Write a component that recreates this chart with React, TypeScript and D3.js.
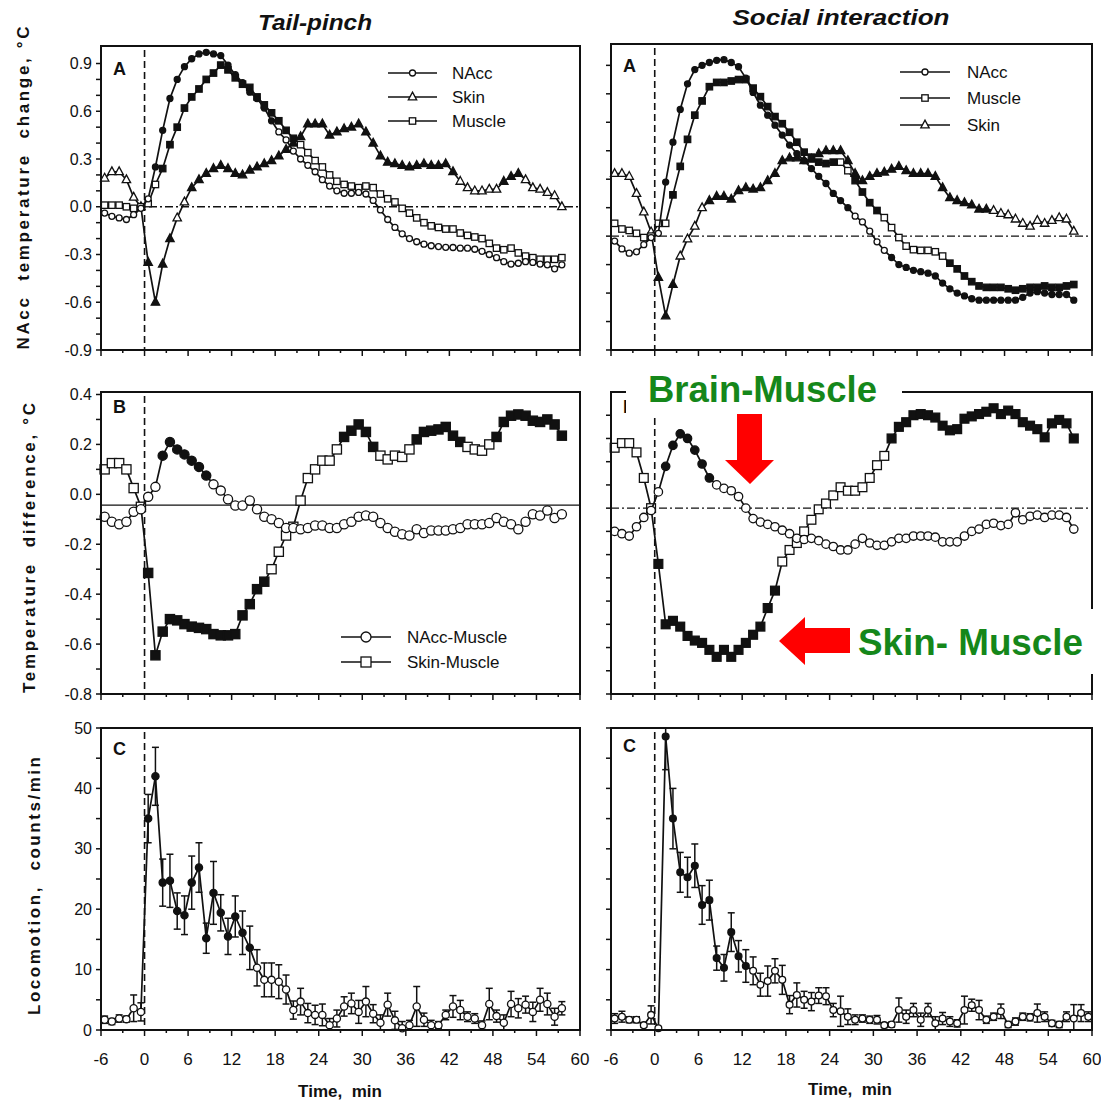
import React from "react";
import * as d3 from "d3";

const INK = "#111";
const GREEN = "#15871a";
const RED = "#ff0000";
const FONT = "'Liberation Sans', Arial, Helvetica, sans-serif";

// 1-min bins, min after stimulus
const time = [
  -5.5, -4.5, -3.5, -2.5, -1.5, -0.5, 0.5, 1.5, 2.5, 3.5, 4.5, 5.5, 6.5, 7.5, 8.5, 9.5,
  10.5, 11.5, 12.5, 13.5, 14.5, 15.5, 16.5, 17.5, 18.5, 19.5, 20.5, 21.5, 22.5, 23.5,
  24.5, 25.5, 26.5, 27.5, 28.5, 29.5, 30.5, 31.5, 32.5, 33.5, 34.5, 35.5, 36.5, 37.5,
  38.5, 39.5, 40.5, 41.5, 42.5, 43.5, 44.5, 45.5, 46.5, 47.5, 48.5, 49.5, 50.5, 51.5,
  52.5, 53.5, 54.5, 55.5, 56.5, 57.5,
];
const timeLong = [...time, 58.5, 59.5];

const timeTicks = [-6, 0, 6, 12, 18, 24, 30, 36, 42, 48, 54, 60];
const timeMinor = [-6, -3, 0, 3, 6, 9, 12, 15, 18, 21, 24, 27, 30, 33, 36, 39, 42, 45, 48, 51, 54, 57, 60];

// ---- A: temperature change, tail-pinch
const tpNAcc = [
  -0.04, -0.06, -0.07, -0.08, -0.05, -0.01,
  0.05, 0.25, 0.48, 0.68, 0.8, 0.88, 0.93, 0.96, 0.97, 0.96,
  0.95, 0.89, 0.83, 0.78, 0.72, 0.68, 0.62, 0.54, 0.47, 0.42,
  0.35, 0.3, 0.26, 0.22, 0.17, 0.13, 0.1, 0.085, 0.085, 0.09,
  0.08, 0.04, -0.02, -0.08, -0.13, -0.17, -0.2, -0.22, -0.235, -0.245,
  -0.25, -0.255, -0.256, -0.26, -0.26, -0.267, -0.28, -0.3, -0.32, -0.345,
  -0.36, -0.355, -0.345, -0.35, -0.36, -0.365, -0.39, -0.365,
];
const tpSkin = [
  0.18, 0.22, 0.22, 0.17, 0.06, 0.0,
  -0.35, -0.6, -0.36, -0.2, -0.07, 0.03, 0.12, 0.17, 0.21, 0.24,
  0.26, 0.24, 0.21, 0.2, 0.23, 0.25, 0.27, 0.29, 0.32, 0.36,
  0.4, 0.44, 0.52, 0.52, 0.52, 0.45, 0.47, 0.49, 0.5, 0.52,
  0.47, 0.4, 0.32, 0.28, 0.27, 0.26, 0.25, 0.26, 0.27, 0.26,
  0.26, 0.27, 0.22, 0.16, 0.12, 0.1, 0.1, 0.11, 0.11, 0.16,
  0.19, 0.21, 0.17, 0.12, 0.11, 0.09, 0.07, 0.0,
];
const tpMuscle = [
  0.01, 0.01, 0.01, 0.0, -0.01, 0.0,
  0.02, 0.14, 0.24, 0.39, 0.5, 0.62, 0.69, 0.74, 0.8, 0.84,
  0.89, 0.86, 0.81, 0.77, 0.75, 0.69, 0.64, 0.59, 0.54, 0.48,
  0.43, 0.39, 0.34, 0.29, 0.25, 0.2, 0.16, 0.14, 0.13, 0.12,
  0.13, 0.12, 0.08, 0.05, 0.03, -0.01, -0.04, -0.07, -0.1, -0.12,
  -0.13, -0.14, -0.14, -0.165, -0.18, -0.19, -0.2, -0.23, -0.26, -0.27,
  -0.26, -0.29, -0.31, -0.32, -0.33, -0.33, -0.33, -0.32,
];

// ---- A: temperature change, social interaction
const siNAcc = [
  -0.035, -0.09, -0.12, -0.11, -0.06, -0.01,
  0.02, 0.38, 0.66, 0.89, 1.07, 1.17, 1.2, 1.22, 1.235, 1.24,
  1.22, 1.19, 1.11, 1.01, 0.92, 0.85, 0.78, 0.71, 0.64, 0.58,
  0.53, 0.475, 0.42, 0.37, 0.3, 0.25, 0.2, 0.14, 0.1, 0.035,
  -0.04, -0.1, -0.15, -0.2, -0.22, -0.24, -0.25, -0.26, -0.28, -0.33,
  -0.37, -0.4, -0.42, -0.44, -0.45, -0.45, -0.45, -0.45, -0.45, -0.45,
  -0.43, -0.4, -0.39, -0.4, -0.41, -0.41, -0.41, -0.45,
];
const siMuscle = [
  0.09, 0.05, 0.04, 0.02, -0.01, 0.0,
  0.09, 0.09, 0.29, 0.49, 0.68, 0.85, 0.95, 1.05, 1.08, 1.08,
  1.09, 1.1, 1.1, 1.04, 0.98, 0.91, 0.84, 0.79, 0.73, 0.66,
  0.59, 0.555, 0.52, 0.51, 0.52, 0.52, 0.46, 0.39, 0.31, 0.235,
  0.18, 0.13, 0.06, -0.01, -0.07, -0.095, -0.1, -0.1, -0.11, -0.14,
  -0.19, -0.23, -0.28, -0.32, -0.35, -0.36, -0.36, -0.36, -0.37, -0.38,
  -0.37, -0.36, -0.36, -0.35, -0.36, -0.36, -0.35, -0.34,
];
const siSkin = [
  0.44, 0.44, 0.42, 0.3, 0.17, 0.03,
  -0.29, -0.56, -0.34, -0.14, -0.02, 0.07, 0.2, 0.25, 0.28, 0.28,
  0.26, 0.32, 0.34, 0.33, 0.34, 0.39, 0.44, 0.53, 0.55, 0.55,
  0.53, 0.54, 0.58, 0.6, 0.6, 0.6, 0.53, 0.44, 0.39, 0.42,
  0.44, 0.45, 0.47, 0.49, 0.46, 0.44, 0.44, 0.44, 0.42, 0.34,
  0.27, 0.25, 0.235, 0.22, 0.19, 0.19, 0.18, 0.16, 0.15, 0.12,
  0.09, 0.07, 0.11, 0.09, 0.11, 0.13, 0.12, 0.035,
];

// ---- B: temperature differences
const tpNAccMuscle = [
  -0.09, -0.11, -0.12, -0.11, -0.07, -0.06,
  -0.01, 0.03, 0.155, 0.21, 0.18, 0.16, 0.135, 0.11, 0.075, 0.04,
  0.015, -0.02, -0.045, -0.045, -0.025, -0.06, -0.09, -0.1, -0.115, -0.135,
  -0.135, -0.14, -0.135, -0.125, -0.125, -0.135, -0.135, -0.12, -0.11, -0.09,
  -0.085, -0.09, -0.115, -0.135, -0.15, -0.16, -0.165, -0.14, -0.155, -0.145,
  -0.145, -0.145, -0.14, -0.135, -0.12, -0.12, -0.12, -0.115, -0.095, -0.11,
  -0.12, -0.14, -0.11, -0.08, -0.085, -0.065, -0.095, -0.08,
];
const tpSkinMuscle = [
  0.1, 0.125, 0.125, 0.1, 0.025, -0.05,
  -0.315, -0.645, -0.55, -0.5, -0.505, -0.52, -0.53, -0.535, -0.54, -0.56,
  -0.565, -0.565, -0.56, -0.485, -0.44, -0.38, -0.35, -0.3, -0.23, -0.165,
  -0.13, -0.025, 0.065, 0.1, 0.135, 0.135, 0.18, 0.23, 0.255, 0.28,
  0.25, 0.19, 0.155, 0.14, 0.155, 0.15, 0.18, 0.22, 0.25, 0.255,
  0.26, 0.27, 0.235, 0.21, 0.19, 0.18, 0.175, 0.2, 0.23, 0.29,
  0.315, 0.32, 0.315, 0.295, 0.29, 0.3, 0.28, 0.235,
];
const siNAccMuscle = [
  -0.1, -0.11, -0.12, -0.08, -0.04, -0.01,
  0.07, 0.18, 0.27, 0.32, 0.3, 0.25, 0.19, 0.13, 0.1, 0.085,
  0.075, 0.05, 0.0, -0.045, -0.06, -0.07, -0.08, -0.095, -0.11, -0.13,
  -0.135, -0.13, -0.14, -0.155, -0.165, -0.18, -0.18, -0.155, -0.13, -0.15,
  -0.16, -0.16, -0.145, -0.13, -0.13, -0.12, -0.12, -0.12, -0.125, -0.145,
  -0.145, -0.145, -0.12, -0.1, -0.09, -0.07, -0.065, -0.075, -0.07, -0.02,
  -0.05, -0.035, -0.03, -0.04, -0.03, -0.03, -0.04, -0.09,
];
const siSkinMuscle = [
  0.26, 0.28, 0.28, 0.24, 0.13, 0.0,
  -0.24, -0.5, -0.485, -0.51, -0.55, -0.57, -0.58, -0.61, -0.64, -0.61,
  -0.64, -0.61, -0.58, -0.545, -0.51, -0.43, -0.355, -0.23, -0.18, -0.15,
  -0.1, -0.05, -0.005, 0.02, 0.055, 0.09, 0.075, 0.075, 0.09, 0.13,
  0.185, 0.225, 0.3, 0.35, 0.37, 0.4, 0.405, 0.4, 0.39, 0.355,
  0.335, 0.34, 0.385, 0.395, 0.405, 0.415, 0.43, 0.405, 0.42, 0.405,
  0.37, 0.355, 0.34, 0.305, 0.365, 0.38, 0.365, 0.3,
];

// ---- C: locomotion (mean, SEM)
const tpLoco = [
  1.7, 1.4, 1.9, 1.8, 3.6, 3.0,
  35.0, 42.0, 24.4, 24.7, 19.7, 19.0, 24.4, 26.9, 15.2, 22.7,
  19.4, 15.5, 18.8, 16.1, 13.6, 10.3, 8.3, 8.3, 8.0, 6.7,
  3.3, 4.7, 2.8, 2.5, 2.5, 0.8, 1.9, 3.9, 4.4, 3.0,
  4.7, 2.7, 1.2, 4.2, 1.6, 0.3, 0.8, 3.9, 1.7, 0.8,
  0.8, 2.5, 3.9, 3.3, 2.2, 1.9, 0.8, 4.3, 2.3, 1.2,
  4.3, 3.6, 4.2, 3.0, 5.0, 4.3, 2.2, 3.6,
];
const tpLocoSem = [
  0.6, 0.5, 0.6, 0.5, 2.2, 1.5,
  4.0, 4.8, 3.9, 4.4, 3.0, 3.2, 4.4, 4.1, 2.5, 5.2,
  3.0, 3.0, 3.4, 3.6, 3.6, 3.0, 2.8, 2.8, 2.8, 2.4,
  1.5, 2.2, 1.6, 1.6, 1.8, 1.1, 1.4, 1.6, 1.7, 1.9,
  2.5, 1.5, 1.3, 1.9, 1.5, 1.1, 0.8, 3.3, 1.1, 0.8,
  0.6, 0.8, 1.8, 1.6, 0.8, 0.8, 0.7, 2.6, 1.0, 1.3,
  2.1, 1.6, 1.4, 1.6, 1.9, 1.8, 1.4, 1.1,
];
const siLoco = [
  1.9, 2.2, 1.7, 1.7, 0.8, 2.5,
  0.3, 48.6, 35.0, 26.1, 25.3, 27.2, 20.7, 21.5, 11.9, 10.3,
  16.2, 12.2, 10.6, 9.8, 7.5, 8.1, 9.8, 8.3, 4.2, 5.8,
  5.0, 4.7, 5.7, 5.6, 3.3, 3.1, 2.2, 1.7, 1.9, 1.7,
  1.7, 0.8, 0.9, 3.3, 2.2, 3.3, 1.7, 3.3, 1.1, 1.9,
  1.4, 1.1, 3.3, 4.1, 3.3, 1.7, 2.2, 3.1, 0.9, 1.4,
  2.2, 2.1, 2.8, 2.2, 1.1, 0.9, 2.2, 1.9, 2.8, 2.2,
];
const siLocoSem = [
  0.8, 0.9, 0.5, 0.5, 0.3, 1.5,
  0.0, 5.5, 5.0, 3.3, 3.3, 3.6, 3.2, 3.3, 2.0, 2.2,
  3.2, 2.6, 2.7, 2.3, 1.9, 2.5, 2.0, 2.4, 1.5, 2.0,
  1.4, 1.5, 1.3, 1.4, 1.1, 2.5, 1.3, 0.8, 0.6, 0.6,
  0.7, 0.4, 0.4, 2.0, 1.1, 1.1, 1.1, 1.1, 1.1, 1.0,
  0.8, 0.6, 2.3, 1.0, 1.6, 0.6, 0.6, 1.2, 0.5, 0.6,
  0.6, 0.6, 1.5, 0.8, 0.5, 0.5, 0.8, 2.3, 1.4, 0.8,
];

// periods with filled (significant) symbols, [from, to] in min
const tpNAccFilled = [[1.5, 17.5]];
const tpSkinFilled = [[0.5, 3.5], [6.5, 42.5], [49.5, 51.5]];
const tpMuscleFilled = [[2.5, 20.5]];
const siNAccFilled = [[1.5, 26.5], [32.5, 57.5]];
const siMuscleFilled = [[2.5, 24.5], [27.5, 30.5], [40.5, 57.5]];
const siSkinFilled = [[0.5, 2.5], [7.5, 45.5]];
const tpNAccMuscleFilled = [[2.5, 8.5]];
const tpSkinMuscleFilled = [[0.5, 16.5], [27.5, 31.5], [37.5, 43.5], [48.5, 57.5]];
const siNAccMuscleFilled = [[1.5, 7.5]];
const siSkinMuscleFilled = [[0.5, 16.5], [32.5, 57.5]];
const tpLocoFilled = [[0.5, 14.5]];
const siLocoFilled = [[1.5, 12.5]];

// axis ticks
const tempLabelsA = [-0.9, -0.6, -0.3, 0, 0.3, 0.6, 0.9];
const tempTicksA = [-0.9, -0.8, -0.7, -0.6, -0.5, -0.4, -0.3, -0.2, -0.1, 0, 0.1, 0.2, 0.3, 0.4, 0.5, 0.6, 0.7, 0.8, 0.9];
const tempTicksSiA = [-0.8, -0.6, -0.4, -0.2, 0, 0.2, 0.4, 0.6, 0.8, 1.0, 1.2];
const diffLabels = [-0.8, -0.6, -0.4, -0.2, 0, 0.2, 0.4];
const diffTicks = [-0.8, -0.7, -0.6, -0.5, -0.4, -0.3, -0.2, -0.1, 0, 0.1, 0.2, 0.3, 0.4];
const locoLabels = [0, 10, 20, 30, 40, 50];
const locoTicks = [0, 5, 10, 15, 20, 25, 30, 35, 40, 45, 50];

const tpBaselineB = -0.043;

const legendTPA = ["NAcc", "Skin", "Muscle"];
const legendSIA = ["NAcc", "Muscle", "Skin"];
const legendTPB = ["NAcc-Muscle", "Skin-Muscle"];

type Kind = "circle" | "square" | "triangle";
interface Series {
  t: number[];
  v: number[];
  kind: Kind;
  size: number;
  filled: number[][];
  sem?: number[];
}
interface PanelProps {
  x0: number;
  x1: number;
  y0: number;
  y1: number;
  yDomain: [number, number];
  yTicks: number[];
  yLabels?: number[];
  yFormat?: (v: number) => string;
  xLabels?: boolean;
  letter: string;
  letterDy: number;
  refLine?: { value: number; dash?: string };
  series: Series[];
}

const isFilled = (t: number, ranges: number[][]) =>
  ranges.some(([a, b]) => t >= a - 1e-6 && t <= b + 1e-6);

function Marker({ kind, x, y, size, filled }: { kind: Kind; x: number; y: number; size: number; filled: boolean }) {
  const fill = filled ? INK : "#fff";
  if (kind === "circle")
    return <circle cx={x} cy={y} r={size} fill={fill} stroke={INK} strokeWidth={1.3} />;
  if (kind === "square")
    return <rect x={x - size} y={y - size} width={size * 2} height={size * 2} fill={fill} stroke={INK} strokeWidth={1.3} />;
  return (
    <path
      d={`M${x},${y - size * 1.15}L${x + size},${y + size * 0.7}L${x - size},${y + size * 0.7}Z`}
      fill={fill}
      stroke={INK}
      strokeWidth={1.3}
    />
  );
}

function Panel(p: PanelProps) {
  const x = d3.scaleLinear().domain([-6, 60]).range([p.x0, p.x1]);
  const y = d3.scaleLinear().domain(p.yDomain).range([p.y1, p.y0]);
  const line = d3
    .line<[number, number]>()
    .x((d) => x(d[0]))
    .y((d) => y(d[1]));
  const fmt = p.yFormat ?? ((v: number) => String(v));

  return (
    <g>
      {p.refLine && (
        <line
          x1={p.x0}
          x2={p.x1}
          y1={y(p.refLine.value)}
          y2={y(p.refLine.value)}
          stroke={INK}
          strokeWidth={1.3}
          strokeDasharray={p.refLine.dash}
        />
      )}
      <line x1={x(0)} x2={x(0)} y1={p.y0 + 4} y2={p.y1} stroke={INK} strokeWidth={1.6} strokeDasharray="7 4" />

      {p.series.map((s, si) => (
        <g key={si}>
          {s.sem &&
            s.t.map((t, i) => {
              const e = s.sem![i];
              if (!e) return null;
              const lo = y(Math.max(p.yDomain[0], s.v[i] - e));
              const top = s.v[i] + e;
              const hi = y(Math.min(p.yDomain[1], top));
              const cx = x(t);
              return (
                <g key={i} stroke={INK} strokeWidth={1.5}>
                  <line x1={cx} x2={cx} y1={lo} y2={hi} />
                  {top <= p.yDomain[1] && <line x1={cx - 3.5} x2={cx + 3.5} y1={hi} y2={hi} />}
                  <line x1={cx - 3.5} x2={cx + 3.5} y1={lo} y2={lo} />
                </g>
              );
            })}
          <path d={line(s.t.map((t, i) => [t, s.v[i]] as [number, number])) ?? ""} fill="none" stroke={INK} strokeWidth={1.7} />
          {s.t.map((t, i) => (
            <Marker key={i} kind={s.kind} x={x(t)} y={y(s.v[i])} size={s.size} filled={isFilled(t, s.filled)} />
          ))}
        </g>
      ))}

      <rect x={p.x0} y={p.y0} width={p.x1 - p.x0} height={p.y1 - p.y0} fill="none" stroke={INK} strokeWidth={2} />
      {p.yTicks.map((v) => (
        <line key={v} x1={p.x0 - 5} x2={p.x0} y1={y(v)} y2={y(v)} stroke={INK} strokeWidth={1.5} />
      ))}
      {p.yLabels?.map((v) => (
        <text key={v} x={p.x0 - 9} y={y(v)} dy="0.35em" textAnchor="end" fontSize={16} fill={INK}>
          {fmt(v)}
        </text>
      ))}
      {timeMinor.map((t) => (
        <line key={t} x1={x(t)} x2={x(t)} y1={p.y1} y2={p.y1 + (t % 6 === 0 ? 6 : 3)} stroke={INK} strokeWidth={1.5} />
      ))}
      {p.xLabels &&
        timeTicks.map((t) => (
          <text key={t} x={x(t)} y={p.y1 + 35} textAnchor="middle" fontSize={17} fill={INK}>
            {t}
          </text>
        ))}
      <text x={p.x0 + 12} y={p.y0 + p.letterDy} fontSize={18} fontWeight="bold" fill={INK}>
        {p.letter}
      </text>
    </g>
  );
}

function Legend({
  x0, x1, xText, labels, kinds, sizes, ys,
}: { x0: number; x1: number; xText: number; labels: string[]; kinds: Kind[]; sizes: number[]; ys: number[] }) {
  return (
    <g>
      {labels.map((label, i) => (
        <g key={label}>
          <line x1={x0} x2={x1} y1={ys[i]} y2={ys[i]} stroke={INK} strokeWidth={1.7} />
          <Marker kind={kinds[i]} x={(x0 + x1) / 2} y={ys[i]} size={sizes[i]} filled={false} />
          <text x={xText} y={ys[i]} dy="0.35em" fontSize={17} fill={INK}>
            {label}
          </text>
        </g>
      ))}
    </g>
  );
}

const f1 = (v: number) => v.toFixed(1);

export default function App() {
  const L = { x0: 101, x1: 580 };
  const R = { x0: 611, x1: 1092 };
  return (
    <div style={{ position: "absolute", left: 0, top: 0 }}>
      <svg width={1101} height={1102} fontFamily={FONT} style={{ display: "block", background: "#fff" }}>
        <rect width={1101} height={1102} fill="#fff" />

        {/* column titles */}
        <text x={315} y={30} textAnchor="middle" fontSize={22} fontWeight="bold" fontStyle="italic" fill={INK}
          textLength={114} lengthAdjust="spacingAndGlyphs">Tail-pinch</text>
        <text x={841} y={25} textAnchor="middle" fontSize={22} fontWeight="bold" fontStyle="italic" fill={INK}
          textLength={217} lengthAdjust="spacingAndGlyphs">Social interaction</text>

        {/* y titles */}
        <text transform="translate(29,188) rotate(-90)" textAnchor="middle" fontSize={17} fontWeight="bold" fill={INK}
          textLength={323} lengthAdjust="spacing" style={{ whiteSpace: "pre" }}>NAcc  temperature  change, °C</text>
        <text transform="translate(35,548) rotate(-90)" textAnchor="middle" fontSize={17} fontWeight="bold" fill={INK}
          textLength={290} lengthAdjust="spacing" style={{ whiteSpace: "pre" }}>Temperature  difference, °C</text>
        <text transform="translate(40,886) rotate(-90)" textAnchor="middle" fontSize={17} fontWeight="bold" fill={INK}
          textLength={258} lengthAdjust="spacing" style={{ whiteSpace: "pre" }}>Locomotion,  counts/min</text>

        {/* Row A */}
        <Panel
          {...L} y0={46} y1={350} yDomain={[-0.9, 1.01]}
          yTicks={tempTicksA} yLabels={tempLabelsA} yFormat={f1}
          letter="A" letterDy={29}
          refLine={{ value: 0, dash: "8 3 2 3" }}
          series={[
            { t: time, v: tpSkin, kind: "triangle", size: 4.2, filled: tpSkinFilled },
            { t: time, v: tpMuscle, kind: "square", size: 3.2, filled: tpMuscleFilled },
            { t: time, v: tpNAcc, kind: "circle", size: 3, filled: tpNAccFilled },
          ]}
        />
        <Legend x0={388} x1={437} xText={452} labels={legendTPA}
          kinds={["circle", "triangle", "square"]} sizes={[3, 4.2, 3.2]} ys={[73, 97, 121]} />

        <Panel
          {...R} y0={44} y1={350} yDomain={[-0.8, 1.35]}
          yTicks={tempTicksSiA}
          letter="A" letterDy={28}
          refLine={{ value: 0, dash: "8 3 2 3" }}
          series={[
            { t: time, v: siSkin, kind: "triangle", size: 4.2, filled: siSkinFilled },
            { t: time, v: siMuscle, kind: "square", size: 3.2, filled: siMuscleFilled },
            { t: time, v: siNAcc, kind: "circle", size: 3, filled: siNAccFilled },
          ]}
        />
        <Legend x0={900} x1={950} xText={967} labels={legendSIA}
          kinds={["circle", "square", "triangle"]} sizes={[3, 3.2, 4.2]} ys={[72, 98, 125]} />

        {/* Row B */}
        <Panel
          {...L} y0={392} y1={694} yDomain={[-0.8, 0.41]}
          yTicks={diffTicks} yLabels={diffLabels} yFormat={f1}
          letter="B" letterDy={21}
          refLine={{ value: tpBaselineB }}
          series={[
            { t: time, v: tpSkinMuscle, kind: "square", size: 4.6, filled: tpSkinMuscleFilled },
            { t: time, v: tpNAccMuscle, kind: "circle", size: 4.6, filled: tpNAccMuscleFilled },
          ]}
        />
        <Legend x0={341} x1={391} xText={407} labels={legendTPB}
          kinds={["circle", "square"]} sizes={[5, 5]} ys={[637, 662]} />

        <Panel
          {...R} y0={392} y1={694} yDomain={[-0.8, 0.5]}
          yTicks={diffTicks}
          letter="B" letterDy={21}
          refLine={{ value: 0, dash: "8 3 2 3" }}
          series={[
            { t: time, v: siSkinMuscle, kind: "square", size: 4.4, filled: siSkinMuscleFilled },
            { t: time, v: siNAccMuscle, kind: "circle", size: 4.2, filled: siNAccMuscleFilled },
          ]}
        />

        {/* Row C */}
        <Panel
          {...L} y0={728} y1={1030} yDomain={[0, 50]}
          yTicks={locoTicks} yLabels={locoLabels} xLabels
          letter="C" letterDy={27}
          series={[{ t: time, v: tpLoco, sem: tpLocoSem, kind: "circle", size: 3.6, filled: tpLocoFilled }]}
        />
        <Panel
          {...R} y0={728} y1={1030} yDomain={[0, 50]}
          yTicks={locoTicks} xLabels
          letter="C" letterDy={24}
          series={[{ t: timeLong, v: siLoco, sem: siLocoSem, kind: "circle", size: 3.4, filled: siLocoFilled }]}
        />

        <text x={340} y={1097} textAnchor="middle" fontSize={17} fontWeight="bold" fill={INK}
          style={{ whiteSpace: "pre" }}>Time,  min</text>
        <text x={850} y={1095} textAnchor="middle" fontSize={17} fontWeight="bold" fill={INK}
          style={{ whiteSpace: "pre" }}>Time,  min</text>

        {/* overlaid annotations */}
        <rect x={626} y={360} width={276} height={55} fill="#fff" />
        <text x={648} y={402} fontSize={36} fontWeight="bold" fill={GREEN}
          textLength={229} lengthAdjust="spacingAndGlyphs">Brain-Muscle</text>
        <polygon points="737,414 762,414 762,460 774,460 750,484 725,460 737,460" fill={RED} />

        <rect x={855} y={609} width={246} height={65} fill="#fff" />
        <text x={858} y={655} fontSize={36} fontWeight="bold" fill={GREEN}
          textLength={225} lengthAdjust="spacingAndGlyphs" style={{ whiteSpace: "pre" }}>Skin- Muscle</text>
        <polygon points="850,628 850,653 805,653 805,665 779,641 805,617 805,628" fill={RED} />
      </svg>
    </div>
  );
}
